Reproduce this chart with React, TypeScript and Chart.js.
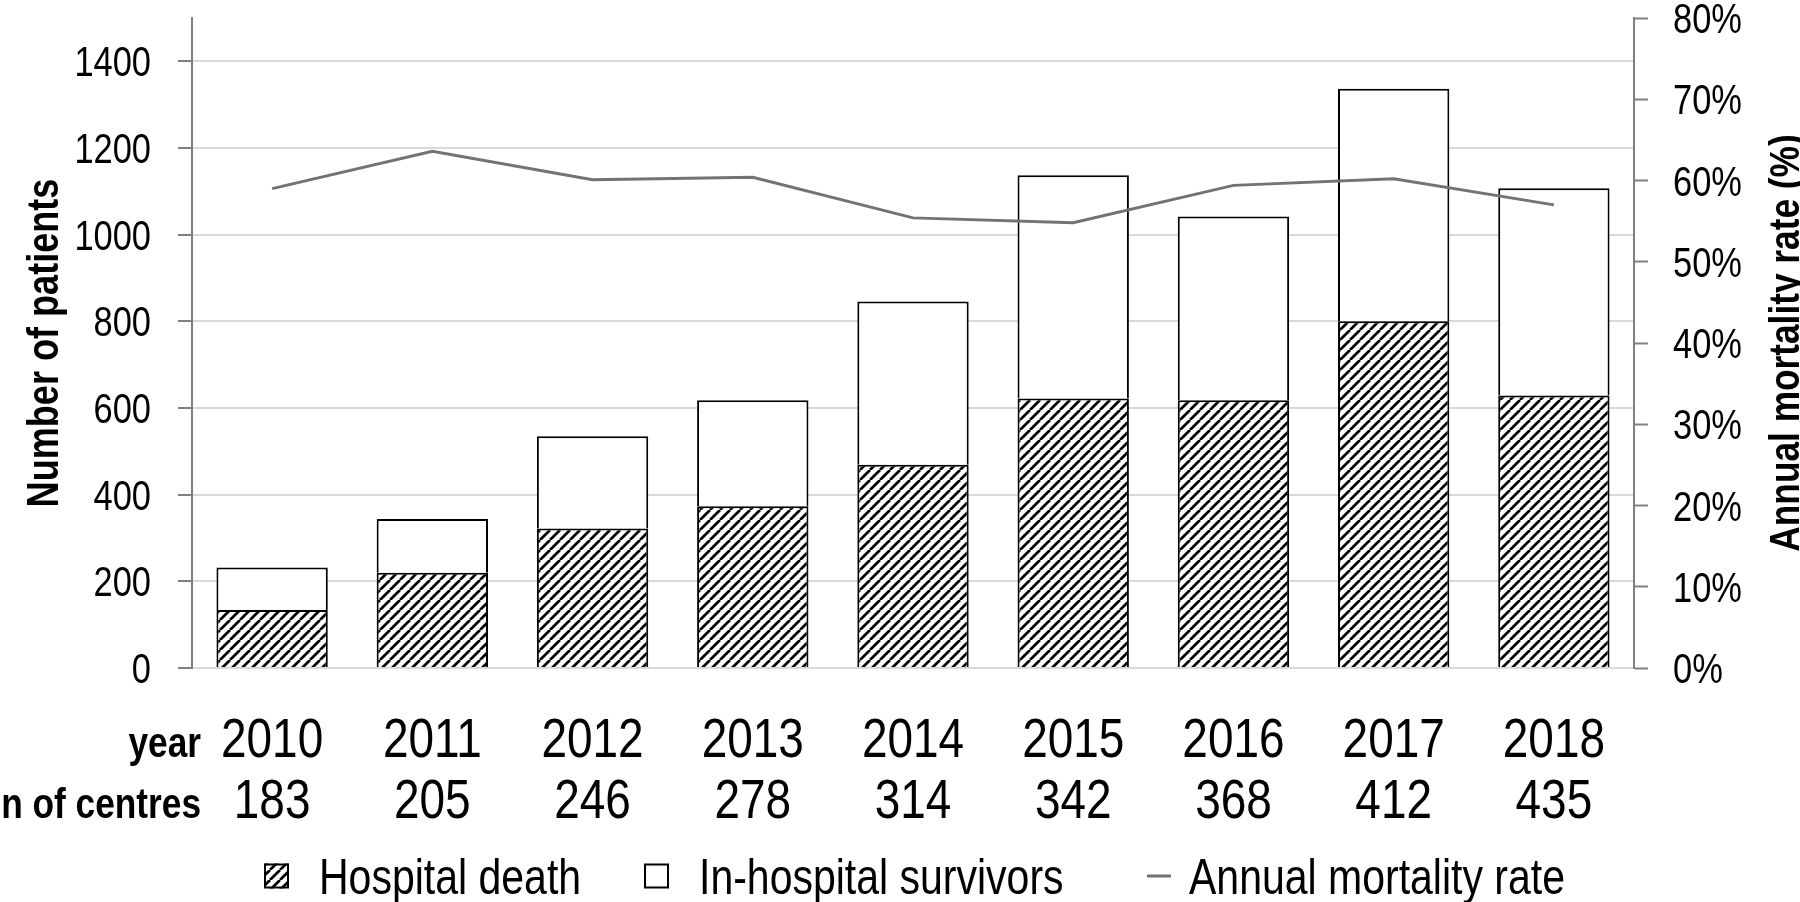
import React, { useEffect, useRef } from 'react';
import { Chart, registerables } from 'chart.js';

Chart.register(...registerables);

// ---- data ----
const years = ['2010', '2011', '2012', '2013', '2014', '2015', '2016', '2017', '2018'];
const centres = ['183', '205', '246', '278', '314', '342', '368', '412', '435'];
const hospitalDeath = [134, 220, 322, 373, 469, 622, 618, 800, 629];
const inHospitalSurvivors = [98, 124, 213, 245, 377, 515, 424, 537, 478];
const annualMortalityRate = [59.0, 63.6, 60.1, 60.4, 55.4, 54.8, 59.4, 60.2, 57.0];
const leftTickValues = [0, 200, 400, 600, 800, 1000, 1200, 1400];
const rightTickValues = [0, 10, 20, 30, 40, 50, 60, 70, 80];
const legendNames = ['Hospital death', 'In-hospital survivors', 'Annual mortality rate'];
const rowHeaders = ['year', 'n of centres'];
const leftTitle = 'Number of patients';
const rightTitle = 'Annual mortality rate (%)';

const FONT = "'Liberation Sans', Arial, sans-serif";
const NARROW = 0.82;
const LINE_COLOR = '#737373';

function hatchTile(size: number, lw: number): HTMLCanvasElement {
  const c = document.createElement('canvas');
  c.width = size;
  c.height = size;
  const g = c.getContext('2d')!;
  g.fillStyle = '#ffffff';
  g.fillRect(0, 0, size, size);
  g.strokeStyle = '#000000';
  g.lineWidth = lw;
  g.beginPath();
  for (let k = -1; k <= 1; k++) {
    g.moveTo(k * size, size);
    g.lineTo(k * size + size, 0);
  }
  g.stroke();
  return c;
}

function narrowText(
  ctx: CanvasRenderingContext2D,
  text: string,
  x: number,
  y: number,
  size: number,
  bold: boolean,
  align: CanvasTextAlign,
  rotate = 0
) {
  ctx.save();
  ctx.translate(x, y);
  if (rotate) ctx.rotate(rotate);
  ctx.scale(NARROW, 1);
  ctx.font = `${bold ? 'bold ' : ''}${size}px ${FONT}`;
  ctx.textAlign = align;
  ctx.textBaseline = 'alphabetic';
  ctx.fillStyle = '#000';
  ctx.fillText(text, 0, 0);
  ctx.restore();
}

const CAP = 0.716;
const HATCH_SIZE = 10;
const HATCH_LW = 2.7;

const textPlugin = {
  id: 'narrowTexts',
  afterDraw(chart: any) {
    const ctx = chart.ctx as CanvasRenderingContext2D;
    const xs = chart.scales.x;
    const ys = chart.scales.y;
    const y1 = chart.scales.y1;
    const area = chart.chartArea;

    // left tick labels
    const tickFont = 42;
    leftTickValues.forEach((v) => {
      const py = ys.getPixelForValue(v);
      narrowText(ctx, String(v), ys.right - 41, py + (tickFont * CAP) / 2, tickFont, false, 'right');
    });
    // right tick labels
    rightTickValues.forEach((v) => {
      const py = y1.getPixelForValue(v);
      narrowText(ctx, v + '%', y1.left + 39, py + (tickFont * CAP) / 2, tickFont, false, 'left');
    });

    // category rows
    const catFont = 56;
    const yearBase = area.bottom + 89;
    const centreBase = area.bottom + 150;
    years.forEach((yr, i) => {
      const px = xs.getPixelForValue(i);
      narrowText(ctx, yr, px, yearBase, catFont, false, 'center');
      narrowText(ctx, centres[i], px, centreBase, catFont, false, 'center');
    });
    narrowText(ctx, rowHeaders[0], 201, yearBase, 43, true, 'right');
    narrowText(ctx, rowHeaders[1], 201, centreBase, 43, true, 'right');

    // axis titles
    const cy = (area.top + area.bottom) / 2;
    narrowText(ctx, leftTitle, 58, cy, 44, true, 'center', -Math.PI / 2);
    narrowText(ctx, rightTitle, 1799, cy, 43, true, 'center', -Math.PI / 2);

    // legend
    const legFont = 50;
    const legCenter = 876;
    const base = legCenter + (legFont * CAP) / 2;
    const bs = 25;
    const top = legCenter - bs / 2;
    ctx.save();
    ctx.fillStyle = ctx.createPattern(hatchTile(HATCH_SIZE, HATCH_LW), 'repeat')!;
    ctx.fillRect(264, top, bs, bs);
    ctx.strokeStyle = '#000';
    ctx.lineWidth = 2;
    ctx.strokeRect(265, top + 1, bs - 2, bs - 2);
    ctx.fillStyle = '#fff';
    ctx.fillRect(644, top, bs, bs);
    ctx.strokeRect(645, top + 1, bs - 2, bs - 2);
    ctx.strokeStyle = LINE_COLOR;
    ctx.lineWidth = 3;
    ctx.beginPath();
    ctx.moveTo(1147, legCenter);
    ctx.lineTo(1171, legCenter);
    ctx.stroke();
    ctx.restore();
    narrowText(ctx, legendNames[0], 319, base, legFont, false, 'left');
    narrowText(ctx, legendNames[1], 699, base, legFont, false, 'left');
    narrowText(ctx, legendNames[2], 1189, base, legFont, false, 'left');
  },
};

export default function App() {
  const ref = useRef<HTMLCanvasElement>(null);

  useEffect(() => {
    const canvas = ref.current!;
    const ctx = canvas.getContext('2d')!;
    const hatch = ctx.createPattern(hatchTile(HATCH_SIZE, HATCH_LW), 'repeat')!;

    const chart = new Chart(canvas, {
      type: 'bar',
      data: {
        labels: years,
        datasets: [
          {
            type: 'line',
            label: legendNames[2],
            data: annualMortalityRate,
            yAxisID: 'y1',
            borderColor: LINE_COLOR,
            borderWidth: 3,
            pointRadius: 0,
            tension: 0,
            fill: false,
            order: 0,
          } as any,
          {
            label: legendNames[0],
            data: hospitalDeath,
            yAxisID: 'y',
            backgroundColor: hatch,
            borderColor: '#000',
            borderWidth: 2,
            order: 1,
          },
          {
            label: legendNames[1],
            data: inHospitalSurvivors,
            yAxisID: 'y',
            backgroundColor: '#fff',
            borderColor: '#000',
            borderWidth: 2,
            order: 2,
          },
        ],
      },
      options: {
        responsive: false,
        animation: false,
        devicePixelRatio: 1,
        events: [],
        layout: { padding: { top: 18, left: 0, right: 0, bottom: 0 } },
        datasets: { bar: { categoryPercentage: 1, barPercentage: 0.695 } },
        plugins: {
          tooltip: { enabled: false },
          title: { display: false },
          legend: { display: false },
        },
        scales: {
          x: {
            stacked: true,
            offset: true,
            grid: { display: false, drawTicks: false },
            border: { display: false },
            ticks: { display: false },
            afterFit: (s: any) => {
              s.height = 234;
              s.paddingLeft = 0;
              s.paddingRight = 0;
            },
          },
          y: {
            type: 'linear',
            position: 'left',
            stacked: true,
            min: 0,
            max: 1500,
            grid: {
              color: '#d9d9d9',
              lineWidth: 2,
              tickLength: 14,
              tickColor: '#808080',
              tickWidth: 2,
            },
            border: { color: '#808080', width: 2 },
            ticks: { display: false },
            afterBuildTicks: (s: any) => {
              s.ticks = leftTickValues.map((v) => ({ value: v }));
            },
            afterFit: (s: any) => {
              s.width = 192;
              s.paddingTop = 0;
              s.paddingBottom = 0;
            },
          },
          y1: {
            type: 'linear',
            position: 'right',
            min: 0,
            max: 80,
            grid: {
              drawOnChartArea: false,
              tickLength: 14,
              tickColor: '#808080',
              tickWidth: 2,
            },
            border: { color: '#808080', width: 2 },
            ticks: { display: false },
            afterBuildTicks: (s: any) => {
              s.ticks = rightTickValues.map((v) => ({ value: v }));
            },
            afterFit: (s: any) => {
              s.width = 166;
              s.paddingTop = 0;
              s.paddingBottom = 0;
            },
          },
        },
      },
      plugins: [textPlugin],
    } as any);

    return () => chart.destroy();
  }, []);

  return (
    <div style={{ position: 'absolute', left: 0, top: 0, width: 1800, height: 902, background: '#fff' }}>
      <canvas ref={ref} width={1800} height={902} style={{ display: 'block', width: 1800, height: 902 }} />
    </div>
  );
}
